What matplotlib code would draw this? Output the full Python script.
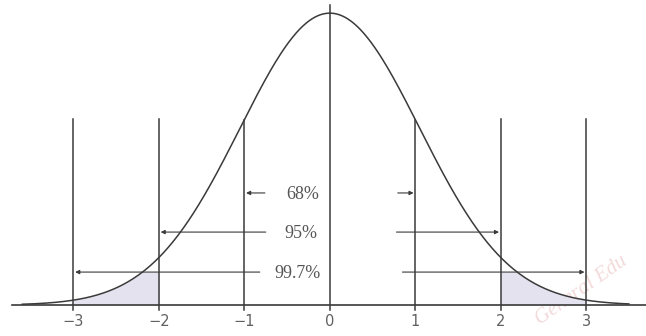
import numpy as np
import matplotlib.pyplot as plt

# positions of the standard deviation lines and their labels
sd_marks = [-3, -2, -1, 0, 1, 2, 3]
tick_labels = ["\u22123", "\u22122", "\u22121", "0", "1", "2", "3"]

# coverage bands: label, half-width (in sd), height of the arrow (fraction of the peak)
band_labels = ["68%", "95%", "99.7%"]
band_width = [1, 2, 3]
band_height = [0.384, 0.25, 0.113]

curve_sd = 1.05   # the printed curve is a touch wider than a unit normal


def bell(x):
    return np.exp(-0.5 * (np.asarray(x) / curve_sd) ** 2)


fig = plt.figure(figsize=(6.46, 3.36), dpi=100)
ax = fig.add_axes([0, 0, 1, 1])
ax.set_xlim(-3.86, 3.70)
ax.set_ylim(-0.106, 1.045)
ax.axis("off")

ink = "#3a3a3a"

xs = np.linspace(-3.6, 3.5, 600)
ax.plot(xs, bell(xs), color=ink, lw=1.1)

# baseline
ax.plot([-3.72, 3.70], [0, 0], color=ink, lw=1.2)

# shaded tails, kept below the 99.7% arrow
for a, b in [(-3, -2), (2, 3)]:
    t = np.linspace(a, b, 100)
    ax.fill_between(t, 0, np.minimum(bell(t), band_height[2]),
                    color="#e3e2ee", lw=0)

# vertical sd lines
for m in sd_marks:
    if m == 0:
        top = 1.027
    elif abs(m) == 1:
        top = bell(m)
    else:
        top = 0.637
    ax.plot([m, m], [-0.018, top], color=ink, lw=1.1)

for m, lab in zip(sd_marks, tick_labels):
    ax.text(m, -0.058, lab, ha="center", va="center", fontsize=10.5,
            color="#606060", family="DejaVu Sans")

# arrows and percent labels
left_start = [-0.76, -0.75, -0.82]
right_start = [0.795, 0.78, 0.85]
label_x = [-0.316, -0.34, -0.374]
for lab, w, h, ls, rs, lx in zip(band_labels, band_width, band_height,
                                  left_start, right_start, label_x):
    ax.annotate("", xy=(-w + 0.02, h), xytext=(ls, h),
                arrowprops=dict(arrowstyle="-|>", color=ink, lw=0.8,
                                mutation_scale=6, shrinkA=0, shrinkB=0))
    ax.annotate("", xy=(w - 0.02, h), xytext=(rs, h),
                arrowprops=dict(arrowstyle="-|>", color=ink, lw=0.8,
                                mutation_scale=6, shrinkA=0, shrinkB=0))
    ax.text(lx, h - 0.005, lab, ha="center", va="center", fontsize=13,
            color="#555555", family="Liberation Serif")

# faint watermark text
ax.text(2.95, 0.05, "General Edu", rotation=35, ha="center", va="center",
        fontsize=15, color="#f3dada", family="Liberation Serif",
        style="italic", zorder=0)

fig.savefig("out.png", dpi=100)
